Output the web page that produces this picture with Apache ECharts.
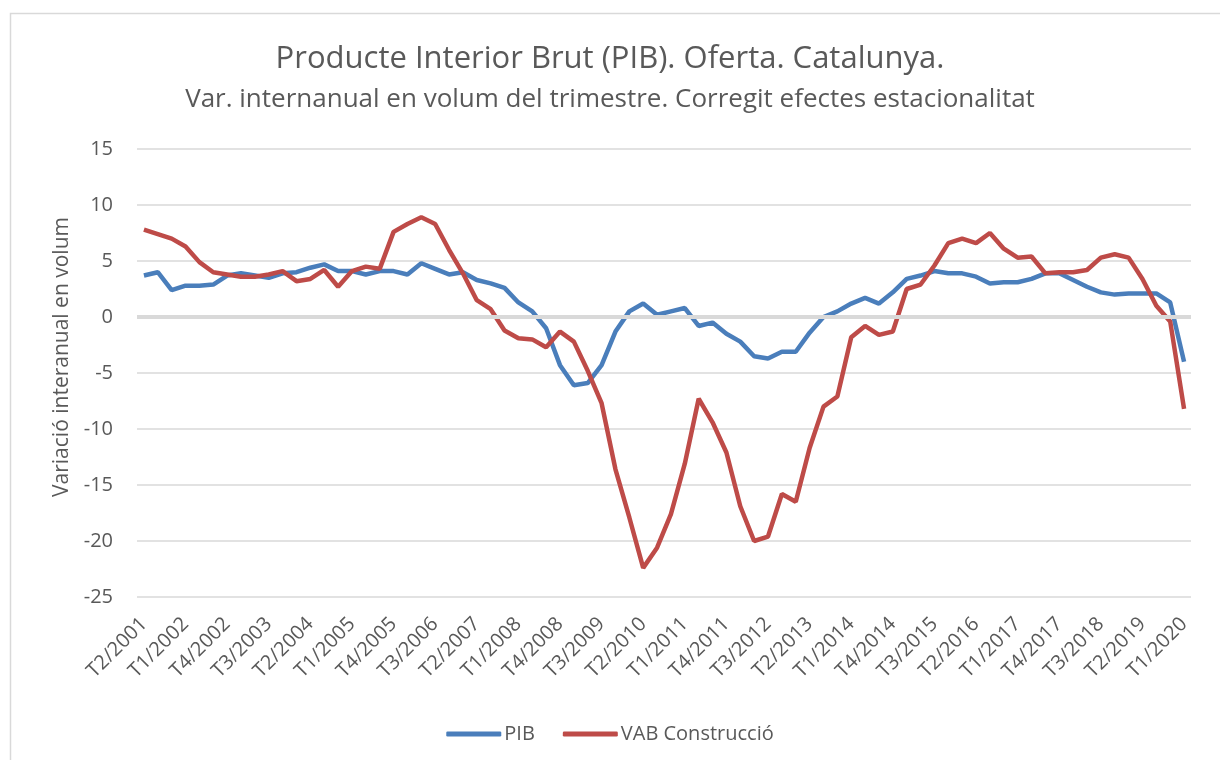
<!DOCTYPE html>
<html>
<head>
<meta charset="utf-8">
<script src="https://cdn.jsdelivr.net/npm/echarts@6/dist/echarts.min.js"></script>
<style>
  html, body { margin: 0; padding: 0; background: #fff; }
  #chart { width: 1220px; height: 760px; }
</style>
</head>
<body>
<div id="chart"></div>
<script>
// trimestres T2/2001 .. T1/2020
const quarters = [];
for (let y = 2001; y <= 2020; y++) {
    for (let q = 1; q <= 4; q++) {
        if (y === 2001 && q < 2) continue;
        if (y === 2020 && q > 1) continue;
        quarters.push('T' + q + '/' + y);
    }
}

const pib = [
    3.7, 4.0, 2.4, 2.8, 2.8, 2.9, 3.7, 3.9, 3.7, 3.5,
    3.9, 4.0, 4.4, 4.7, 4.1, 4.1, 3.8, 4.1, 4.1, 3.8,
    4.8, 4.3, 3.8, 4.0, 3.3, 3.0, 2.6, 1.3, 0.5, -1.0,
    -4.3, -6.1, -5.9, -4.3, -1.3, 0.5, 1.2, 0.2, 0.5, 0.8,
    -0.8, -0.5, -1.5, -2.2, -3.5, -3.7, -3.1, -3.1, -1.4, 0.0,
    0.5, 1.2, 1.7, 1.2, 2.2, 3.4, 3.7, 4.1, 3.9, 3.9,
    3.6, 3.0, 3.1, 3.1, 3.4, 3.9, 3.9, 3.3, 2.7, 2.2,
    2.0, 2.1, 2.1, 2.1, 1.3, -4.0
];

const vabConstruccio = [
    7.8, 7.4, 7.0, 6.3, 4.9, 4.0, 3.8, 3.6, 3.6, 3.8,
    4.1, 3.2, 3.4, 4.2, 2.7, 4.1, 4.5, 4.3, 7.6, 8.3,
    8.9, 8.3, 6.0, 3.9, 1.5, 0.7, -1.2, -1.9, -2.0, -2.7,
    -1.3, -2.2, -4.8, -7.7, -13.6, -17.9, -22.4, -20.6, -17.6, -13.1,
    -7.3, -9.4, -12.1, -16.9, -20.0, -19.6, -15.8, -16.5, -11.7, -8.0,
    -7.1, -1.8, -0.8, -1.6, -1.3, 2.5, 2.9, 4.6, 6.6, 7.0,
    6.6, 7.5, 6.1, 5.3, 5.4, 3.9, 4.0, 4.0, 4.2, 5.3,
    5.6, 5.3, 3.4, 1.0, -0.4, -8.2
];

const FONT = 'Open Sans';
const TXT = '#595959';

let myChart = echarts.init(document.getElementById('chart'));
myChart.setOption({
    animation: false,
    textStyle: { fontFamily: FONT, color: TXT },
    graphic: [{
        type: 'rect',
        left: 8, top: 11,
        shape: { width: 1240, height: 780 },
        style: { fill: 'none', stroke: '#d9d9d9', lineWidth: 1.5 },
        silent: true
    }],
    title: {
        text: 'Producte Interior Brut (PIB). Oferta. Catalunya.',
        subtext: 'Var. internanual en volum del trimestre. Corregit efectes estacionalitat',
        left: 'center',
        top: 39,
        itemGap: 12,
        textStyle: { fontFamily: FONT, fontSize: 31, fontWeight: 'normal', color: TXT },
        subtextStyle: { fontFamily: FONT, fontSize: 26, color: TXT }
    },
    legend: {
        bottom: 11,
        left: 'center',
        itemWidth: 55,
        itemHeight: 5,
        itemGap: 28,
        icon: 'roundRect',
        textStyle: { fontFamily: FONT, fontSize: 20, color: TXT, padding: [0, 0, 0, -2] },
        data: ['PIB', 'VAB Construcció']
    },
    grid: { left: 137, right: 29, top: 149, bottom: 163 },
    xAxis: {
        type: 'category',
        data: quarters,
        boundaryGap: true,
        axisLine: { show: false },
        axisTick: { show: false },
        axisLabel: {
            interval: 2,
            rotate: 45,
            fontFamily: FONT,
            fontSize: 20,
            color: TXT,
            margin: 24
        }
    },
    yAxis: {
        type: 'value',
        min: -25,
        max: 15,
        interval: 5,
        name: 'Variació interanual en volum',
        nameLocation: 'middle',
        nameGap: 64,
        nameTextStyle: { fontFamily: FONT, fontSize: 21, color: TXT, padding: [0, 0, 0, 32] },
        axisLine: { show: false },
        axisTick: { show: false },
        axisLabel: { fontFamily: FONT, fontSize: 20, color: TXT, margin: 24 },
        splitLine: { lineStyle: { color: '#d9d9d9', width: 1.5 } }
    },
    series: [
        {
            name: 'zero',
            type: 'line',
            data: [],
            z: 1,
            silent: true,
            markLine: {
                silent: true,
                symbol: 'none',
                label: { show: false },
                lineStyle: { color: '#d9d9d9', width: 4, type: 'solid' },
                data: [{ yAxis: 0 }]
            }
        },
        {
            name: 'PIB',
            type: 'line',
            data: pib,
            z: 3,
            showSymbol: false,
            lineStyle: { color: '#4a7ebb', width: 4.5 },
            itemStyle: { color: '#4a7ebb' }
        },
        {
            name: 'VAB Construcció',
            type: 'line',
            data: vabConstruccio,
            z: 4,
            showSymbol: false,
            lineStyle: { color: '#be4b48', width: 4.5 },
            itemStyle: { color: '#be4b48' }
        }
    ]
});
</script>
</body>
</html>
